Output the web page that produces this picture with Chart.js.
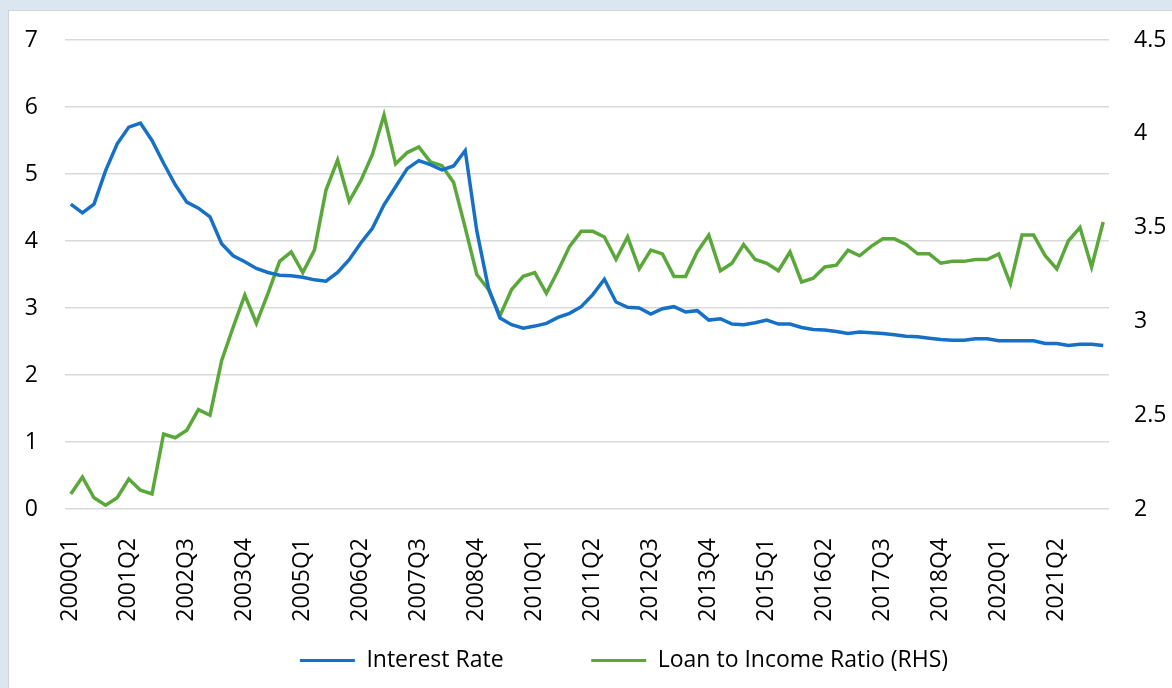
<!DOCTYPE html>
<html>
<head>
<meta charset="utf-8">
<script src="https://cdn.jsdelivr.net/npm/chart.js@4.4.1/dist/chart.umd.min.js"></script>
<style>
  html, body { margin: 0; padding: 0; width: 1172px; height: 688px; overflow: hidden; background: #dce6f0; }
  #panel { position: absolute; left: 8px; top: 10px; width: 1230px; height: 678px; background: #fff; border-top: 1px solid #cfd4da; border-left: 1px solid #cfd4da; box-sizing: border-box; }
  #chartBox { position: absolute; left: 0; top: 0; width: 1230px; height: 677px; }
</style>
</head>
<body>
<div id="panel"><div id="chartBox"><canvas id="rateChart"></canvas></div></div>
<script>
const quarters = [
    '2000Q1', '2000Q2', '2000Q3', '2000Q4', '2001Q1', '2001Q2', '2001Q3', '2001Q4',
    '2002Q1', '2002Q2', '2002Q3', '2002Q4', '2003Q1', '2003Q2', '2003Q3', '2003Q4',
    '2004Q1', '2004Q2', '2004Q3', '2004Q4', '2005Q1', '2005Q2', '2005Q3', '2005Q4',
    '2006Q1', '2006Q2', '2006Q3', '2006Q4', '2007Q1', '2007Q2', '2007Q3', '2007Q4',
    '2008Q1', '2008Q2', '2008Q3', '2008Q4', '2009Q1', '2009Q2', '2009Q3', '2009Q4',
    '2010Q1', '2010Q2', '2010Q3', '2010Q4', '2011Q1', '2011Q2', '2011Q3', '2011Q4',
    '2012Q1', '2012Q2', '2012Q3', '2012Q4', '2013Q1', '2013Q2', '2013Q3', '2013Q4',
    '2014Q1', '2014Q2', '2014Q3', '2014Q4', '2015Q1', '2015Q2', '2015Q3', '2015Q4',
    '2016Q1', '2016Q2', '2016Q3', '2016Q4', '2017Q1', '2017Q2', '2017Q3', '2017Q4',
    '2018Q1', '2018Q2', '2018Q3', '2018Q4', '2019Q1', '2019Q2', '2019Q3', '2019Q4',
    '2020Q1', '2020Q2', '2020Q3', '2020Q4', '2021Q1', '2021Q2', '2021Q3', '2021Q4',
    '2022Q1', '2022Q2'
];

const interestRate = [
    4.55, 4.42, 4.55, 5.05, 5.45, 5.70, 5.76, 5.50, 5.16, 4.84,
    4.58, 4.49, 4.36, 3.96, 3.78, 3.69, 3.59, 3.53, 3.49, 3.48,
    3.46, 3.42, 3.40, 3.53, 3.72, 3.97, 4.19, 4.54, 4.81, 5.08,
    5.20, 5.14, 5.06, 5.12, 5.35, 4.15, 3.30, 2.85, 2.75, 2.70,
    2.73, 2.77, 2.86, 2.92, 3.02, 3.20, 3.43, 3.09, 3.01, 3.00,
    2.91, 2.99, 3.02, 2.94, 2.96, 2.82, 2.84, 2.76, 2.75, 2.78,
    2.82, 2.76, 2.76, 2.71, 2.68, 2.67, 2.65, 2.62, 2.64, 2.63,
    2.62, 2.60, 2.58, 2.57, 2.55, 2.53, 2.52, 2.52, 2.54, 2.54,
    2.51, 2.51, 2.51, 2.51, 2.47, 2.47, 2.44, 2.46, 2.46, 2.44
];

const loanToIncome = [
    2.08, 2.17, 2.06, 2.02, 2.06, 2.16, 2.10, 2.08, 2.40, 2.38,
    2.42, 2.53, 2.50, 2.79, 2.97, 3.14, 2.99, 3.15, 3.32, 3.37,
    3.26, 3.38, 3.70, 3.86, 3.64, 3.75, 3.89, 4.10, 3.84, 3.90,
    3.93, 3.85, 3.83, 3.74, 3.50, 3.25, 3.17, 3.03, 3.17, 3.24,
    3.26, 3.15, 3.27, 3.40, 3.48, 3.48, 3.45, 3.33, 3.45, 3.28,
    3.38, 3.36, 3.24, 3.24, 3.37, 3.46, 3.27, 3.31, 3.41, 3.33,
    3.31, 3.27, 3.37, 3.21, 3.23, 3.29, 3.30, 3.38, 3.35, 3.40,
    3.44, 3.44, 3.41, 3.36, 3.36, 3.31, 3.32, 3.32, 3.33, 3.33,
    3.36, 3.20, 3.46, 3.46, 3.35, 3.28, 3.43, 3.50, 3.29, 3.53
];

const leftTicks = [0, 1, 2, 3, 4, 5, 6, 7];
const rightTicks = [2, 2.5, 3, 3.5, 4, 4.5];

const blue = '#1570c6';
const green = '#5aa83a';

Chart.defaults.font.family = "'Open Sans', sans-serif";
Chart.defaults.font.size = 23;
Chart.defaults.color = '#000';

const rateChartElem = document.getElementById('rateChart').getContext('2d');

// axis label padding is set by hand, so stop Chart.js from adding its own
const noPad = (scale) => {
    scale.paddingTop = 0;
    scale.paddingBottom = 0;
    scale.paddingLeft = 0;
    scale.paddingRight = 0;
};

const rateData = {
    labels: quarters,
    datasets: [{
        label: 'Interest Rate',
        data: interestRate,
        yAxisID: 'y',
        borderColor: blue,
        backgroundColor: blue,
        borderWidth: 3.5,
        tension: 0,
        pointRadius: 0,
    }, {
        label: 'Loan to Income Ratio (RHS)',
        data: loanToIncome,
        yAxisID: 'y1',
        borderColor: green,
        backgroundColor: green,
        borderWidth: 3.5,
        tension: 0,
        pointRadius: 0,
    }],
};

const rateConfig = {
    type: 'line',
    data: rateData,
    options: {
        responsive: true,
        maintainAspectRatio: false,
        animation: false,
        layout: {
            padding: { top: 29, bottom: 6, left: 0, right: 0 },
        },
        scales: {
            x: {
                offset: true,
                grid: { display: false, drawTicks: false },
                border: { display: false },
                ticks: {
                    autoSkip: false,
                    minRotation: 90,
                    maxRotation: 90,
                    padding: 29,
                    callback: function (value, index) {
                        return index % 5 === 0 ? this.getLabelForValue(value) : '';
                    },
                },
                afterFit: (scale) => { scale.height = 130; noPad(scale); },
            },
            y: {
                position: 'left',
                min: leftTicks[0],
                max: leftTicks[leftTicks.length - 1],
                grid: { color: '#d9d9d9', lineWidth: 1.5, drawTicks: false },
                border: { display: false },
                ticks: { stepSize: 1, padding: 27 },
                afterFit: (scale) => { scale.width = 56; noPad(scale); },
            },
            y1: {
                position: 'right',
                min: rightTicks[0],
                max: rightTicks[rightTicks.length - 1],
                grid: { drawOnChartArea: false, drawTicks: false },
                border: { display: false },
                ticks: { stepSize: 0.5, padding: 25, callback: (value) => String(value) },
                afterFit: (scale) => { scale.width = 130; noPad(scale); },
            },
        },
        plugins: {
            legend: {
                position: 'bottom',
                labels: {
                    boxWidth: 55,
                    boxHeight: 3,
                    padding: 10,
                    generateLabels: (chart) => {
                        const items = Chart.defaults.plugins.legend.labels.generateLabels(chart);
                        return items.map((item, i) => ({
                            ...item,
                            fillStyle: item.strokeStyle,
                            lineWidth: 0,
                            text: i === 0 ? item.text + '             ' : item.text,
                        }));
                    },
                },
            },
            tooltip: { enabled: false },
        },
    },
};

const rateChart = new Chart(rateChartElem, rateConfig);
</script>
</body>
</html>
